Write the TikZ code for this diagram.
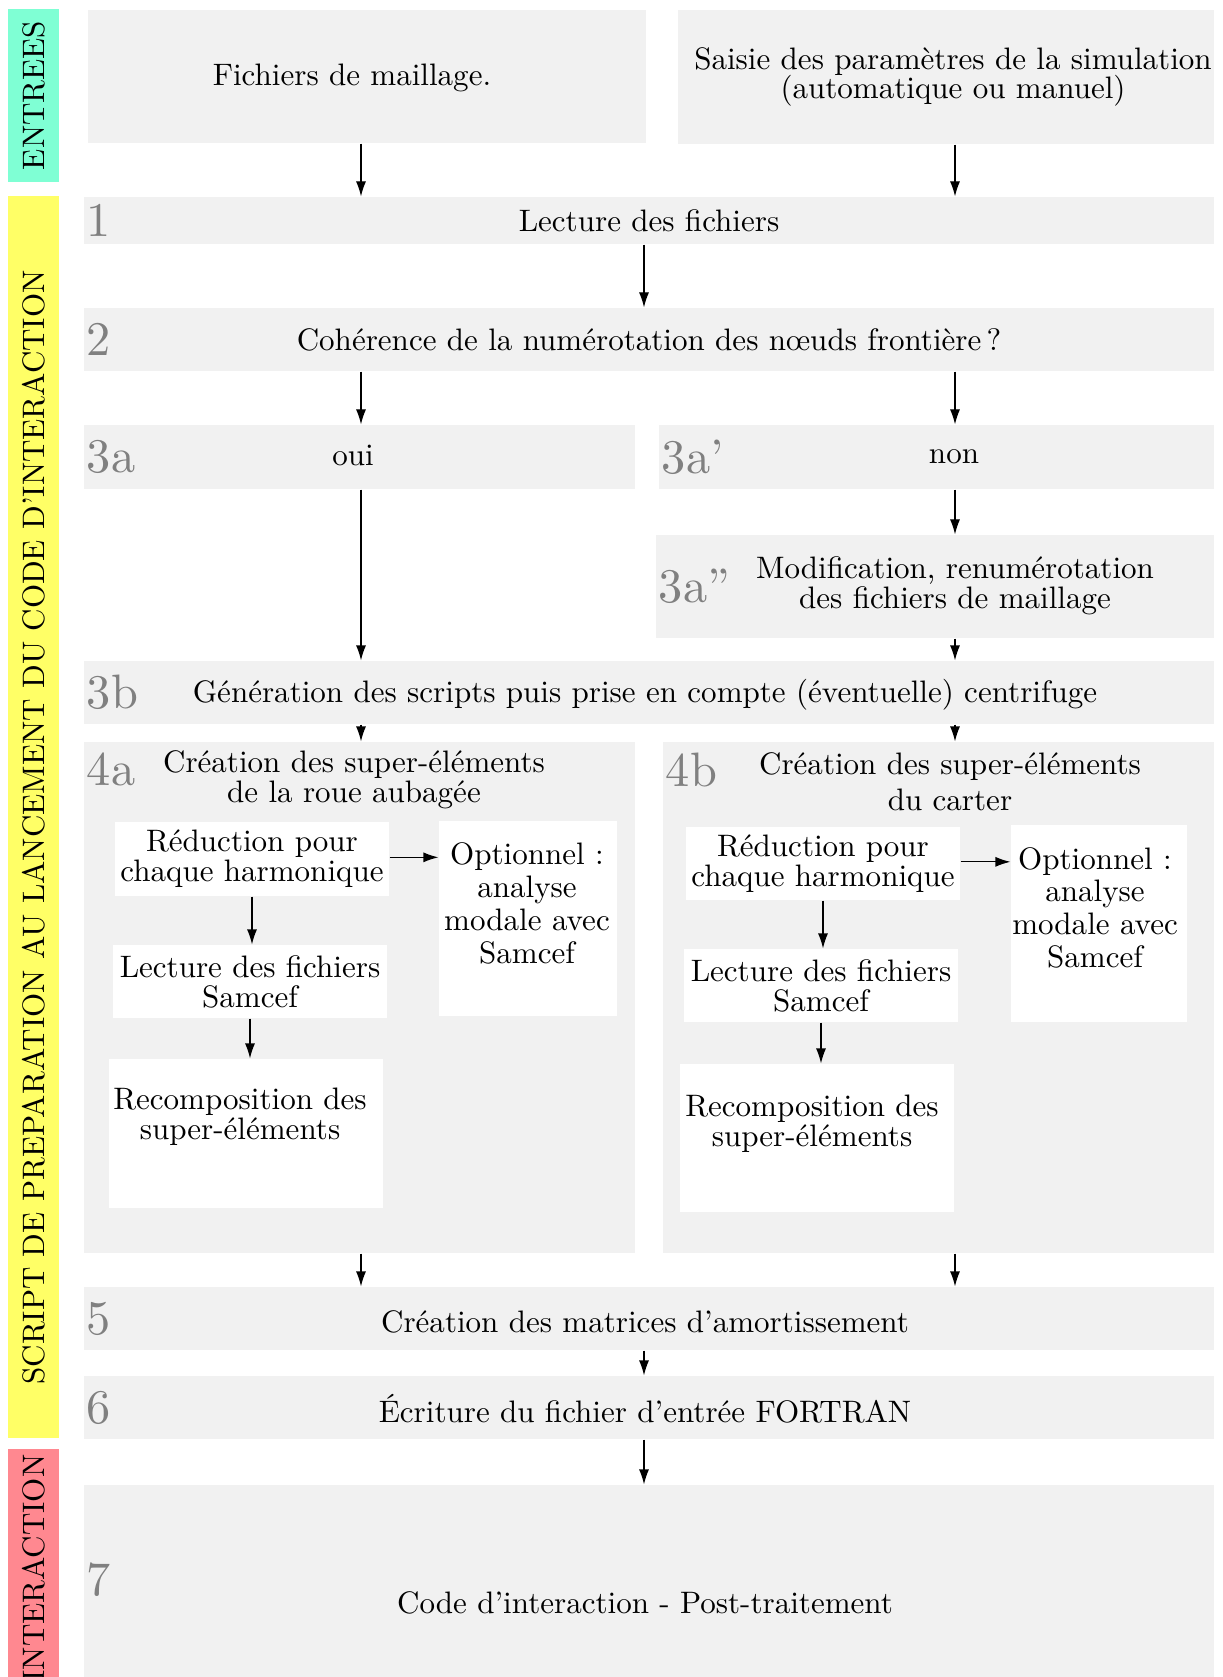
\documentclass[tikz,border=0pt]{standalone}
\usepackage{fontspec}
\usepackage{amsmath}
\usepackage{tikz}
\usetikzlibrary{arrows.meta,calc}

\newfontfamily\numfont[Ligatures=TeX]{lmroman10-regular.otf}
\definecolor{fond}{RGB}{241,241,241}
\definecolor{entrees}{RGB}{127,255,212}
\definecolor{script}{RGB}{255,255,102}
\definecolor{interac}{RGB}{255,136,144}

\begin{document}
\begin{tikzpicture}[scale=1,
  txt/.style={font=\fontsize{10.6}{10.2}\selectfont, align=center, inner sep=0pt},
  etape/.style={txt, fill=fond},
  blanc/.style={txt, fill=white},
  bande/.style={txt, rotate=90, minimum height=0.606cm},
  num/.style={font=\numfont\fontsize{16.5}{16.5}\selectfont, text=gray, inner sep=1pt, anchor=west},
  fl/.style={-{Latex[length=1.8mm,width=1.2mm]}}]
% Cadre
\useasboundingbox (0,0) rectangle (14.664,-20.124);

% Bandes de gauche
\node[bande, fill=entrees, minimum width=2.076cm] (entrees) at (0.405,-1.146) {ENTREES};
\node[bande, fill=script, minimum width=14.904cm] (script) at (0.405,-9.804) {};
\node[txt, rotate=90] (tscript) at (0.405,-9.93) {SCRIPT DE PREPARATION AU LANCEMENT DU CODE D'INTERACTION};
\node[bande, fill=interac, minimum width=2.856cm] (interac) at (0.405,-18.816) {INTERACTION};

% Colonnes des fleches
\coordinate (cg) at (4.332,0);
\coordinate (cd) at (11.46,0);
\coordinate (cc) at (7.728,0);

% Entrees
\node[etape, minimum width=6.696cm, minimum height=1.596cm] (fich) at (4.404,-0.918) {};
\node[txt] (tfich) at (4.224,-0.936) {Fichiers de maillage.};
\node[etape, minimum width=6.432cm, minimum height=1.608cm] (sais) at (11.352,-0.924) {};
\node[txt] (tsais) at (11.436,-0.924) {Saisie des paramètres de la simulation\\(automatique ou manuel)};

% Etapes 1 et 2
\node[etape, minimum width=13.56cm, minimum height=0.564cm, label={[num]west:1}] (e1) at (7.788,-2.646) {Lecture des fichiers};
\node[etape, minimum width=13.56cm, minimum height=0.756cm, label={[num]west:2}] (e2) at (7.788,-4.074) {Cohérence de la numérotation des nœuds frontière\,?};

% Etape 3
\node[etape, minimum width=6.612cm, minimum height=0.768cm, label={[num]west:3a}] (e3a) at (4.314,-5.484) {};
\node[txt] (toui) at (4.236,-5.46) {oui};
\node[etape, minimum width=6.66cm, minimum height=0.768cm, label={[num]west:3a'}] (e3ap) at (11.238,-5.484) {};
\node[txt] (tnon) at (11.448,-5.484) {non};
\node[etape, minimum width=6.696cm, minimum height=1.236cm, label={[num]west:3a''}] (e3app) at (11.22,-7.038) {};
\node[txt] (tmodif) at (11.46,-7.032) {Modification, renumérotation\\des fichiers de maillage};
\node[etape, minimum width=13.56cm, minimum height=0.756cm, label={[num]west:3b}] (e3b) at (7.788,-8.31) {};
\node[txt] (tgen) at (7.74,-8.34) {Génération des scripts puis prise en compte (éventuelle) centrifuge};

% Etape 4a
\node[etape, minimum width=6.612cm, minimum height=6.132cm, label={[num, anchor=north west, yshift=-0.1cm]north west:4a}] (e4a) at (4.314,-11.97) {};
\node[txt, anchor=north] (t4a) at (4.248,-9.0) {Création des super-éléments\\de la roue aubagée};
\node[blanc, minimum width=3.288cm, minimum height=0.888cm] (r4a) at (3.024,-10.308) {Réduction pour\\chaque harmonique};
\node[blanc, minimum width=2.136cm, minimum height=2.34cm] (o4a) at (6.336,-11.022) {};
\node[txt, anchor=north] (to4a) at (6.324,-10.11) {Optionnel :\\[1pt]analyse\\[1pt]modale avec\\[1pt]Samcef};
\node[blanc, minimum width=3.288cm, minimum height=0.876cm] (l4a) at (3.0,-11.778) {Lecture des fichiers\\Samcef};
\node[blanc, minimum width=3.288cm, minimum height=1.788cm] (c4a) at (2.952,-13.602) {};
\node[txt, anchor=north] (tc4a) at (2.88,-13.05) {Recomposition des\\super-éléments};

% Etape 4b
\node[etape, minimum width=6.612cm, minimum height=6.132cm, label={[num, anchor=north west, yshift=-0.1cm]north west:4b}] (e4b) at (11.262,-11.97) {};
\node[txt, anchor=north] (t4b) at (11.4,-9.03) {Création des super-éléments\\[2pt]du carter};
\node[blanc, minimum width=3.288cm, minimum height=0.876cm] (r4b) at (9.876,-10.362) {Réduction pour\\chaque harmonique};
\node[blanc, minimum width=2.112cm, minimum height=2.364cm] (o4b) at (13.188,-11.082) {};
\node[txt, anchor=north] (to4b) at (13.14,-10.16) {Optionnel :\\[1pt]analyse\\[1pt]modale avec\\[1pt]Samcef};
\node[blanc, minimum width=3.288cm, minimum height=0.876cm] (l4b) at (9.852,-11.826) {Lecture des fichiers\\Samcef};
\node[blanc, minimum width=3.288cm, minimum height=1.776cm] (c4b) at (9.804,-13.656) {};
\node[txt, anchor=north] (tc4b) at (9.744,-13.13) {Recomposition des\\super-éléments};

% Etapes 5, 6 et 7
\node[etape, minimum width=13.56cm, minimum height=0.756cm, label={[num]west:5}] (e5) at (7.788,-15.822) {};
\node[txt] (tamort) at (7.74,-15.86) {Création des matrices d'amortissement};
\node[etape, minimum width=13.56cm, minimum height=0.756cm, label={[num]west:6}] (e6) at (7.788,-16.89) {};
\node[txt] (tfort) at (7.74,-16.9) {Écriture du fichier d'entrée FORTRAN};
\node[etape, minimum width=13.56cm, minimum height=2.82cm, label={[num, yshift=0.27cm]west:7}] (e7) at (7.788,-19.23) {};
\node[txt] (tcode) at (7.74,-19.23) {Code d'interaction - Post-traitement};

% Fleches
\draw[fl] (fich.south -| cg) -- (e1.north -| cg);
\draw[fl] (sais.south -| cd) -- (e1.north -| cd);
\draw[fl] (e1.south -| cc) -- (e2.north -| cc);
\draw[fl] (e2.south -| cg) -- (e3a.north -| cg);
\draw[fl] (e2.south -| cd) -- (e3ap.north -| cd);
\draw[fl] (e3a.south -| cg) -- (e3b.north -| cg);
\draw[fl] (e3ap.south -| cd) -- (e3app.north -| cd);
\draw[fl] (e3app.south -| cd) -- (e3b.north -| cd);
\draw[fl] (e3b.south -| cg) -- (e4a.north -| cg);
\draw[fl] (e3b.south -| cd) -- (e4b.north -| cd);
\draw[fl] (e4a.south -| cg) -- (e5.north -| cg);
\draw[fl] (e4b.south -| cd) -- (e5.north -| cd);
\draw[fl] (e5.south -| cc) -- (e6.north -| cc);
\draw[fl] (e6.south -| cc) -- (e7.north -| cc);

% Fleches internes
\draw[fl] ([yshift=0.02cm]r4a.east) -- ([yshift=0.02cm]r4a.east -| o4a.west);
\draw[fl] (r4a.south) -- (r4a.south |- l4a.north);
\draw[fl] (l4a.south) -- (l4a.south |- c4a.north);
\draw[fl] ([yshift=0.02cm]r4b.east) -- ([yshift=0.02cm]r4b.east -| o4b.west);
\draw[fl] (r4b.south) -- (r4b.south |- l4b.north);
\draw[fl] (l4b.south) -- (l4b.south |- c4b.north);
\end{tikzpicture}
\end{document}
